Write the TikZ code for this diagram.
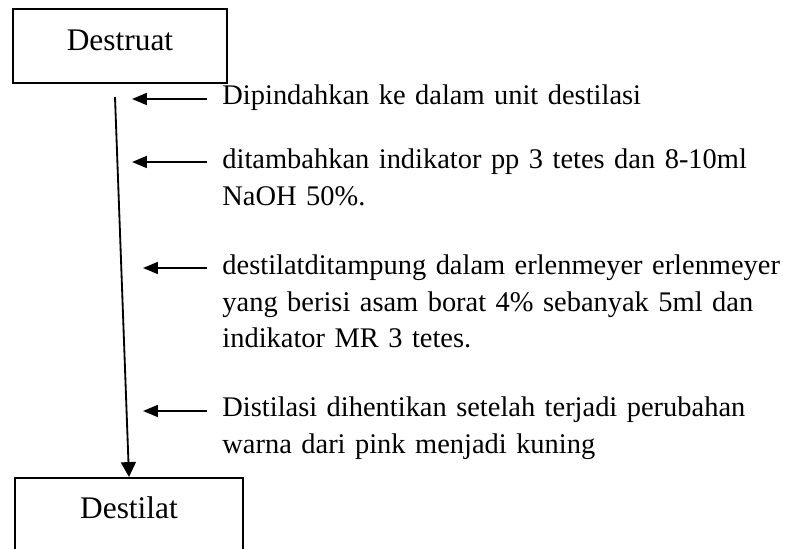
\documentclass[tikz,border=0pt]{standalone}
\usepackage{fontspec}
\setmainfont{Liberation Serif}
\usetikzlibrary{arrows.meta,positioning}

\tikzset{
  kotak/.style={draw, line width=0.7pt, inner sep=0pt, minimum height=32.3pt,
    text height=10pt, text depth=6.5pt, font=\fontsize{13.7}{16}\selectfont},
  ket/.style={anchor=base west, inner sep=0pt, text width=262pt, align=left,
    font=\fontsize{12.4}{15.7}\selectfont},
  panah/.style={-{Triangle[length=6.5pt,width=5.2pt]}, line width=0.8pt},
  panahutama/.style={-{Triangle[length=6.5pt,width=6.5pt]}, line width=0.8pt}
}

\begin{document}
\begin{tikzpicture}[x=0.436pt, y=-0.436pt]
  \useasboundingbox (0,0) rectangle (799,549);

  % Kotak atas dan bawah
  \node[kotak, minimum width=93.3pt] (destruat) at (120,46) {Destruat};
  \node[kotak, minimum width=99.4pt, anchor=north] (destilat) at (129,477) {Destilat};

  % Alur utama
  \coordinate (awal) at (115,97);
  \draw[panahutama] (awal) -- (destilat.north);

  % Keterangan tiap tahap
  \node[ket] (tahap1) at (222,105) {Dipindahkan ke dalam unit destilasi};
  \node[ket] (tahap2) at (222,169) {ditambahkan indikator pp 3 tetes dan 8-10ml\\NaOH 50\%.};
  \node[ket] (tahap3) at (222,275) {destilatditampung dalam erlenmeyer erlenmeyer\\yang berisi asam borat 4\% sebanyak 5ml dan\\indikator MR 3 tetes.};
  \node[ket] (tahap4) at (222,417) {Distilasi dihentikan setelah terjadi perubahan\\warna dari pink menjadi kuning};

  % Panah kecil ke alur utama
  \coordinate (ujung1) at (132,99);
  \coordinate (ujung2) at (132,162);
  \coordinate (ujung3) at (143,268);
  \coordinate (ujung4) at (143,411);
  \foreach \i in {1,...,4}
    \draw[panah, shorten <=6.5pt] (tahap\i.west |- ujung\i) -- (ujung\i);
\end{tikzpicture}
\end{document}
